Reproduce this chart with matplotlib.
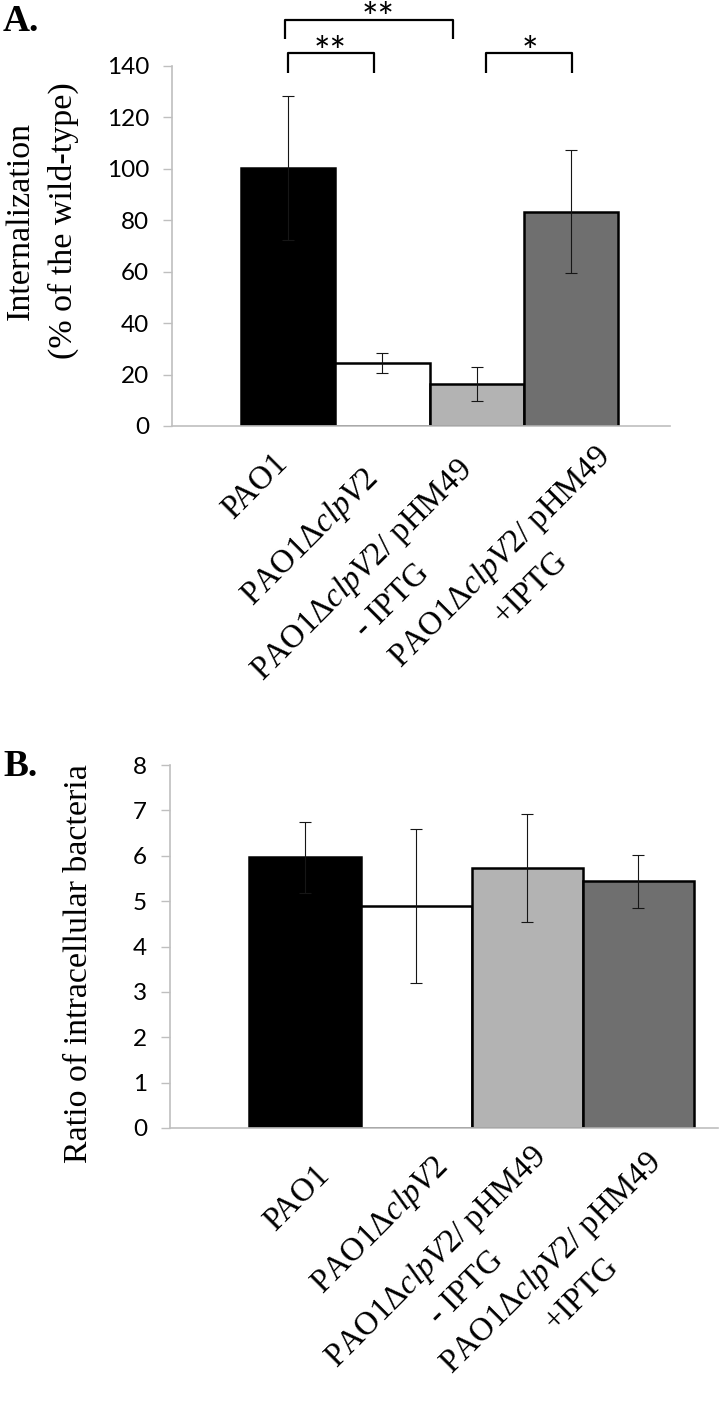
import matplotlib
matplotlib.use('Agg')
import matplotlib.pyplot as plt
import matplotlib.transforms as mtrans
import numpy as np

plt.rcParams['mathtext.fontset'] = 'custom'
plt.rcParams['mathtext.rm'] = 'Liberation Serif'
plt.rcParams['mathtext.it'] = 'Liberation Serif:italic'

# ---------------- data ----------------
categories = [
    'PAO1',
    'PAO1\u0394$\\mathit{clpV2}$',
    'PAO1\u0394$\\mathit{clpV2}$/ pHM49\n- IPTG',
    'PAO1\u0394$\\mathit{clpV2}$/ pHM49\n+IPTG',
]
internalization = [100.3, 24.5, 16.2, 83.4]
internalization_err = [28.0, 3.9, 6.6, 24.0]
ratio_intracellular = [5.97, 4.90, 5.72, 5.44]
ratio_err = [0.78, 1.70, 1.19, 0.585]
yticks_A = [0, 20, 40, 60, 80, 100, 120, 140]
yticks_B = [0, 1, 2, 3, 4, 5, 6, 7, 8]
# significance brackets: (left x, right x, label)
brackets = [(-0.03, 1.75, '**'), (0.0, 0.91, '**'), (2.10, 3.01, '*')]

bar_colors = ['#000000', '#ffffff', '#b3b3b3', '#6f6f6f']
spine_color = '#bfbfbf'

fig = plt.figure(figsize=(7.2, 14.04), dpi=100)
W, H = 720.0, 1404.0
DPI = 100.0

axA = fig.add_axes([172 / W, 1 - 426 / H, 498 / W, 360 / H])
axB = fig.add_axes([170 / W, 1 - 1128 / H, 548 / W, 363 / H])

x = np.arange(len(categories))


def style_axis(ax, yticks):
    for s in ['top', 'right']:
        ax.spines[s].set_visible(False)
    for s in ['left', 'bottom']:
        ax.spines[s].set_color(spine_color)
        ax.spines[s].set_linewidth(1.2)
        ax.spines[s].set_zorder(5)
    ax.set_yticks(yticks)
    ax.set_ylim(yticks[0], yticks[-1])
    ax.tick_params(axis='y', direction='out', length=6.5, width=1.0,
                   color=spine_color, pad=10, labelsize=17.5,
                   labelfontfamily='Lato')
    ax.set_xticks([])


# ---------------- Panel A ----------------
axA.bar(x, internalization, width=1.0, color=bar_colors,
        edgecolor='black', linewidth=1.8, zorder=2)
axA.errorbar(x, internalization, yerr=internalization_err, fmt='none',
             ecolor='#161616', elinewidth=0.8, capsize=4.5, capthick=0.8,
             zorder=3)
style_axis(axA, yticks_A)
axA.set_xlim(-1.229, 4.047)

# brackets
br_levels = [(157.9, 150.5), (145.1, 137.3), (145.1, 137.3)]
star_pos = [(0.953, 153.6), (0.445, 140.4), (2.56, 140.4)]
for (x0, x1, lab), (ytop, ybot), (xs, ys) in zip(brackets, br_levels, star_pos):
    axA.plot([x0, x0, x1, x1], [ybot, ytop, ytop, ybot], color='black',
             lw=1.6, clip_on=False, solid_capstyle='butt', zorder=4)
    axA.text(xs, ys, lab, ha='center', va='baseline', fontsize=28,
             family='Lato', clip_on=False)

# ---------------- Panel B ----------------
axB.bar(x, ratio_intracellular, width=1.0, color=bar_colors,
        edgecolor='black', linewidth=1.8, zorder=2)
axB.errorbar(x, ratio_intracellular, yerr=ratio_err, fmt='none',
             ecolor='#161616', elinewidth=0.8, capsize=4.5, capthick=0.8,
             zorder=3)
style_axis(axB, yticks_B)
axB.set_xlim(-1.216, 3.72)

# ---------------- category labels (rotated 45 deg) ----------------
LAB_FS = 23.5
LINE_PX = 1.38 * LAB_FS * DPI / 72.0
renderer = fig.canvas.get_renderer()


def text_width_px(s):
    t = fig.text(0, 0, s, fontsize=LAB_FS, family='Liberation Serif')
    w = t.get_window_extent(renderer).width
    t.remove()
    return w


u = np.array([np.cos(np.pi / 4), np.sin(np.pi / 4)])      # along text
n_down = np.array([np.sin(np.pi / 4), -np.cos(np.pi / 4)])  # below text

offsA = [(-16, 22), (-22, 36), (-22, 27), (22, 14)]
offsB = [(9, 32), (15, 22), (2, 12), (6, 18)]
for ax, offs in [(axA, offsA), (axB, offsB)]:
    for i, (lab, (dx, dy)) in enumerate(zip(categories, offs)):
        lines = lab.split('\n')
        base = ax.get_xaxis_transform()
        # first line: top-right corner at the anchor
        tr = base + mtrans.ScaledTranslation(dx / DPI, -dy / DPI,
                                             fig.dpi_scale_trans)
        ax.text(i, 0, lines[0], transform=tr, rotation=45,
                rotation_mode='anchor', ha='right', va='top',
                fontsize=LAB_FS, family='Liberation Serif', clip_on=False)
        if len(lines) > 1:
            w1 = text_width_px(lines[0])
            p = np.array([dx, -dy]) - (w1 / 2.0) * u + LINE_PX * n_down
            tr2 = base + mtrans.ScaledTranslation(p[0] / DPI, p[1] / DPI,
                                                  fig.dpi_scale_trans)
            ax.text(i, 0, lines[1], transform=tr2, rotation=45,
                    rotation_mode='anchor', ha='center', va='top',
                    fontsize=LAB_FS, family='Liberation Serif',
                    clip_on=False)

# ---------------- y labels & panel letters ----------------
fig.text(42 / W, 1 - 221 / H, 'Internalization\n(% of the wild-type)',
         rotation=90, ha='center', va='center', multialignment='center',
         fontsize=24.5, family='Liberation Serif', linespacing=1.5)
fig.text(79 / W, 1 - 964 / H, 'Ratio of intracellular bacteria',
         rotation=90, ha='center', va='center', fontsize=24.5,
         family='Liberation Serif')
fig.text(3 / W, 1 - 31 / H, 'A.', ha='left', va='baseline', fontsize=27,
         fontweight='bold', family='Liberation Serif')
fig.text(3 / W, 1 - 776 / H, 'B.', ha='left', va='baseline', fontsize=27,
         fontweight='bold', family='Liberation Serif')

fig.savefig('out.png', dpi=100)
